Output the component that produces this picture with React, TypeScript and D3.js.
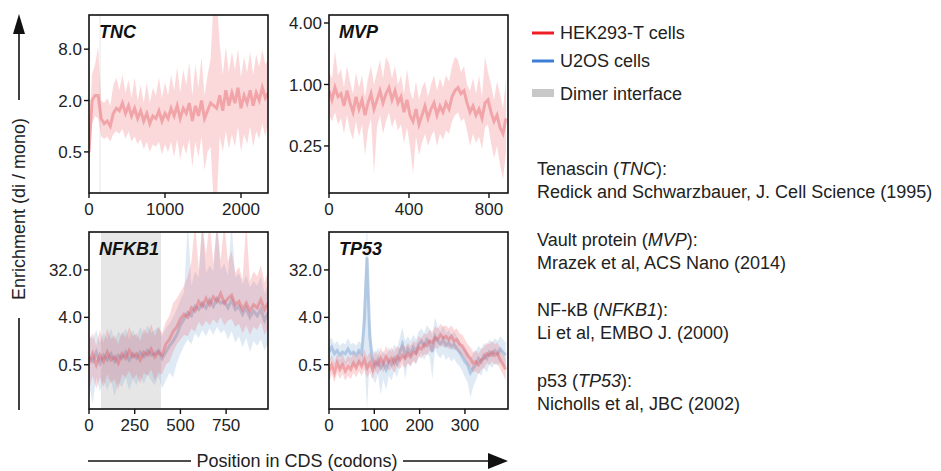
import * as d3 from 'd3'

// enrichment values are stored as log2(di / mono)
const tncCodons = d3.range(0, 2400, 40)
const tncHekMid = [
  -1.0, 1.0, 1.2, 1.2, 0.3, 0.1, 0.2, 0.0, 0.5, 0.7,
  0.6, 0.9, 0.5, 0.8, 0.4, 0.7, 0.3, 0.6, 0.2, 0.5,
  0.1, 0.4, 0.3, 0.6, 0.2, 0.5, 0.3, 0.7, 0.4, 0.8,
  0.3, 0.7, 0.5, 0.9, 0.2, 0.8, 0.4, 1.0, 0.3, 0.6,
  0.9, 0.8, 0.7, 1.2, 0.6, 1.4, 0.8, 1.3, 0.9, 1.5,
  0.7, 1.2, 0.9, 1.4, 0.8, 1.3, 1.0, 1.5, 1.1, 1.3,
]
const tncHekHi = [
  -0.3, 2.0, 2.4, 3.1, 1.0, 0.9, 1.1, 0.8, 1.6, 1.9,
  1.4, 2.0, 1.3, 1.8, 1.1, 1.9, 1.0, 1.6, 0.9, 1.7,
  0.9, 1.5, 1.2, 1.9, 1.1, 1.7, 1.2, 2.0, 1.4, 2.3,
  1.3, 2.2, 1.6, 2.5, 1.2, 2.4, 1.5, 2.7, 1.2, 2.0,
  2.6, 5.0, 5.0, 3.2, 2.0, 3.1, 2.1, 2.9, 2.2, 3.0,
  1.9, 2.7, 2.1, 2.9, 2.0, 2.8, 2.3, 3.0, 2.4, 2.6,
]
const tncHekLo = [
  -1.9, 0.1, 0.4, 0.3, -0.4, -0.5, -0.4, -0.6, -0.3, -0.2,
  -0.3, -0.1, -0.5, -0.2, -0.6, -0.4, -0.7, -0.5, -0.9, -0.6,
  -1.0, -0.7, -0.8, -0.6, -1.1, -0.7, -1.0, -0.6, -1.2, -0.5,
  -1.3, -0.7, -1.1, -0.5, -1.6, -0.6, -1.2, -0.4, -1.7, -1.0,
  -0.8, -3.0, -3.0, -0.4, -1.0, -0.2, -0.9, -0.3, -0.8, 0.0,
  -1.0, -0.3, -0.7, 0.0, -0.8, -0.2, -0.5, 0.1, -0.4, 0.2,
]

const mvpCodons = d3.range(0, 900, 15)
const mvpHekMid = [
  -0.2, -0.5, -0.1, -0.4, -0.3, -0.7, -0.2, -0.6, -0.9, -0.4,
  -0.8, -0.5, -1.0, -0.6, -0.3, -0.8, -0.5, -0.2, -0.6, -0.3,
  -0.1, -0.5, -0.2, -0.6, -0.4, -0.9, -0.5, -1.0, -1.2, -0.8,
  -1.3, -1.0, -0.7, -1.1, -0.8, -0.6, -1.0, -0.7, -0.9, -0.6,
  -0.8, -0.4, -0.2, -0.1, -0.3, -0.2, -0.6, -0.9, -0.7, -1.0,
  -0.8, -1.1, -0.6, -0.5, -0.9, -1.2, -1.0, -1.4, -1.6, -1.1,
]
const mvpHekHi = [
  0.4, 0.2, 1.1, 0.3, 0.5, -0.1, 0.6, 0.1, -0.3, 0.4,
  -0.1, 0.3, -0.4, 0.2, 0.6, 0.0, 0.4, 0.8, 0.2, 0.9,
  0.7, 0.2, 0.6, 0.0, 0.3, -0.3, 0.5, -0.2, -0.5, 0.1,
  -0.5, -0.1, 0.1, -0.4, 0.0, 0.3, -0.2, 0.2, -0.1, 0.3,
  0.1, 0.6, 0.9, 0.8, 0.4, 0.6, 0.0, -0.2, 0.2, -0.3,
  0.3, -0.4, 0.9, 0.4, 0.0, -0.5, 0.1, -0.3, -0.8, 0.2,
]
const mvpHekLo = [
  -1.0, -1.2, -0.9, -1.3, -1.1, -1.6, -1.0, -1.5, -1.8, -1.2,
  -1.7, -1.3, -2.3, -1.5, -1.1, -2.9, -1.4, -1.0, -1.6, -1.2,
  -0.9, -1.4, -1.1, -1.5, -1.3, -1.9, -1.4, -2.0, -2.9, -1.7,
  -2.3, -1.9, -1.6, -2.0, -1.7, -1.5, -2.0, -1.6, -1.8, -1.5,
  -1.6, -1.2, -1.0, -0.9, -1.2, -1.1, -1.5, -2.0, -1.6, -1.9,
  -1.7, -2.1, -1.4, -1.3, -1.9, -2.4, -2.0, -2.6, -3.1, -2.2,
]

const nfkbCodons = d3.range(0, 1000, 20)
const nfkbHekMid = [
  -0.9, -0.3, -1.0, -0.4, -0.8, -0.2, -0.7, -0.5, -0.9, -0.3, -0.6, -0.1, -0.5, -0.3, -0.7, -0.2, -0.4, 0.0, -0.5, -0.2, -0.4,
  0.3, 0.6, 1.1, 1.4, 1.9,
  2.2, 2.0, 2.6, 2.4, 3.0, 2.7, 3.2,
  2.8, 3.3, 3.0, 3.5, 2.9, 3.2, 3.4, 2.8,
  3.0, 2.5, 2.9, 2.4, 2.8, 2.6, 3.1, 2.5, 2.9,
]
const nfkbHekHi = [
  0.5, 1.0, 0.2, 1.2, 0.4, 1.3, 0.6, 0.9, 0.3, 1.1, 0.7, 1.4, 0.8, 1.0, 0.5, 1.3, 0.9, 1.6, 0.8, 1.4, 1.0,
  1.7, 2.1, 2.9, 3.2, 3.6,
  4.0, 4.6, 5.5, 8.0, 5.0, 8.0, 6.0,
  8.0, 5.4, 8.0, 5.6, 8.0, 5.5, 6.2, 4.8,
  5.2, 4.4, 8.0, 4.3, 4.9, 4.6, 5.3, 4.2, 5.0,
]
const nfkbHekLo = [
  -2.6, -1.7, -2.5, -1.8, -2.4, -1.6, -2.2, -1.9, -2.6, -1.6, -1.8, -1.4, -1.9, -1.6, -2.2, -1.5, -1.7, -1.3, -2.0, -1.5, -1.6,
  -1.0, -0.8, -0.2, 0.3, 0.6,
  0.9, 0.8, 1.3, 1.1, 1.7, 1.4, 1.8,
  1.5, 1.9, 1.6, 2.0, 1.5, 1.8, 1.9, 1.4,
  1.6, 1.0, 1.5, 0.9, 1.4, 1.2, 1.7, 0.9, 1.3,
]
const nfkbU2osMid = [
  -0.5, -0.8, -0.2, -0.9, -0.4, -0.7, -0.3, -0.8, -0.4, -0.6, -0.2, -0.7, -0.3, -0.6, -0.2, -0.5, -0.1, -0.4, -0.3, -0.1, -0.6,
  -0.2, 0.2, 0.5, 0.9, 1.5,
  1.9, 2.3, 2.1, 2.7, 2.5, 2.9, 2.6,
  3.1, 2.7, 3.2, 2.9, 3.0, 2.6, 3.1, 2.5,
  2.7, 2.2, 2.6, 2.0, 2.4, 2.1, 2.5, 1.8, 2.3,
]
const nfkbU2osHi = [
  0.9, 0.6, 1.2, 0.4, 1.0, 0.6, 1.3, 0.5, 1.1, 0.8, 1.3, 0.6, 1.2, 0.7, 1.4, 0.9, 1.5, 1.0, 1.2, 1.4, 0.8,
  1.3, 1.6, 2.0, 2.5, 3.1,
  3.6, 8.0, 4.0, 4.9, 4.5, 8.0, 4.8,
  5.3, 4.9, 8.0, 5.0, 5.4, 4.6, 8.0, 4.5,
  4.8, 4.1, 4.7, 3.9, 4.3, 4.0, 4.6, 3.5, 4.2,
]
const nfkbU2osLo = [
  -2.2, -3.5, -1.8, -2.7, -2.0, -2.6, -1.9, -3.0, -2.1, -2.4, -1.8, -2.6, -1.9, -2.3, -1.7, -2.2, -1.6, -2.0, -2.3, -1.7, -2.5,
  -2.0, -1.5, -1.8, -0.9, -0.3,
  0.2, 0.6, 0.3, 1.0, 0.7, 1.2, 0.8,
  1.3, 0.9, 1.4, 1.0, 1.2, 0.6, 1.1, 0.4,
  0.8, 0.1, 0.7, -0.2, 0.5, 0.2, 0.6, -0.1, 0.4,
]

const tp53Codons = d3.range(0, 396, 6)
const tp53HekMid = [
  -1.4, -1.0, -1.5, -0.9, -1.3, -1.0, -1.4, -1.1, -1.3, -0.9,
  -1.2, -0.8, -1.1, -0.7, -1.2, -0.9, -1.3, -0.8, -1.0, -0.6,
  -0.9, -0.5, -0.8, -0.6, -0.9, -0.5, -0.7, -0.4, -0.6, -0.3,
  -0.5, -0.2, -0.3, 0.1, 0.0, 0.3, 0.2, 0.5, 0.4, 0.7,
  0.6, 0.9, 0.7, 0.8, 0.6, 0.8, 0.5, 0.6, 0.3, 0.2,
  -0.1, -0.4, -0.6, -0.9, -0.8, -1.0, -0.7, -0.6, -0.3, -0.4,
  -0.2, -0.4, -0.3, -0.7, -1.0, -1.3,
]
const tp53HekHi = [
  -0.8, -0.4, -0.9, -0.3, -0.7, -0.3, -0.8, -0.4, -0.6, -0.2,
  -0.6, -0.1, -0.5, 0.0, -0.5, -0.2, -0.6, -0.1, -0.4, 0.1,
  -0.3, 0.2, -0.2, 0.1, -0.2, 0.2, 0.0, 0.3, 0.1, 0.4,
  0.2, 0.5, 0.4, 0.8, 0.7, 1.0, 0.9, 1.2, 1.1, 1.4,
  1.3, 1.6, 1.4, 1.5, 1.3, 1.5, 1.2, 1.3, 1.0, 0.9,
  0.6, 0.3, 0.1, -0.2, -0.1, -0.3, 0.0, 0.1, 0.4, 0.3,
  0.5, 0.3, 0.4, 0.0, -0.3, -0.6,
]
const tp53HekLo = [
  -2.1, -1.6, -2.1, -1.5, -1.9, -1.6, -2.0, -1.7, -1.9, -1.5,
  -1.8, -1.4, -1.7, -1.3, -1.8, -1.5, -1.9, -1.4, -1.6, -1.2,
  -1.5, -1.1, -1.4, -1.2, -1.5, -1.1, -1.3, -1.0, -1.2, -0.9,
  -1.1, -0.8, -0.9, -0.5, -0.6, -0.3, -0.4, -0.1, -0.2, 0.1,
  0.0, 0.3, 0.1, 0.2, 0.0, 0.2, -0.1, 0.0, -0.3, -0.4,
  -0.7, -1.0, -1.2, -1.5, -1.4, -1.6, -1.3, -1.2, -0.9, -1.0,
  -0.8, -1.0, -0.9, -1.3, -1.6, -2.0,
]
const tp53U2osMid = [
  -0.2, 0.1, -0.3, -0.1, -0.4, -0.2, -0.3, 0.0, -0.3, -0.2,
  -0.4, -0.1, -0.3, 1.8, 5.8, 0.8, -0.8, -1.1, -0.7, -1.2,
  -0.9, -1.3, -0.8, -1.0, -0.6, -0.9, -0.2, 0.3, -0.4, 0.0,
  -0.3, 0.1, -0.2, 0.3, 0.5, 0.2, 0.6, 0.4, -0.2, 0.8,
  0.5, 0.3, 0.6, 0.2, 0.4, 0.1, 0.3, 0.0, -0.2, -0.5,
  -0.8, -1.0, -1.5, -1.2, -1.0, -0.6, -0.8, -0.4, -0.6, -0.2,
  -0.4, -0.1, -0.3, 0.0, -0.2, -0.4,
]
const tp53U2osHi = [
  0.6, 0.7, 0.3, 0.5, 0.2, 0.4, 0.3, 0.7, 0.3, 0.4,
  0.2, 0.5, 0.3, 4.0, 8.0, 2.0, 0.0, -0.3, 0.1, -0.4,
  -0.1, -0.5, 0.1, -0.2, 0.3, 0.0, 0.7, 1.4, 0.5, 0.8,
  0.5, 0.9, 0.6, 1.1, 1.3, 1.0, 1.5, 1.3, 0.8, 2.0,
  1.4, 1.1, 1.5, 1.0, 1.2, 0.9, 1.1, 0.8, 0.5, 0.2,
  0.0, -0.2, -0.6, -0.3, -0.1, 0.2, 0.0, 0.4, 0.2, 0.6,
  0.4, 0.7, 0.5, 0.8, 0.6, 0.4,
]
const tp53U2osLo = [
  -0.9, -0.6, -1.1, -0.8, -1.3, -1.0, -1.1, -0.8, -1.2, -1.0,
  -1.2, -0.9, -1.1, -0.8, -3.8, -0.6, -1.8, -2.2, -1.6, -2.9,
  -1.9, -2.6, -1.7, -2.0, -1.4, -1.8, -1.0, -0.6, -1.9, -0.9,
  -1.1, -0.7, -1.0, -0.5, -0.3, -0.7, -0.3, -0.5, -1.9, 0.0,
  -0.4, -0.6, -0.3, -0.7, -0.5, -0.8, -0.6, -0.9, -1.1, -1.4,
  -1.8, -2.1, -3.1, -2.4, -2.0, -1.5, -1.7, -1.2, -1.5, -1.0,
  -1.2, -0.9, -1.1, -0.8, -1.0, -1.2,
]

const tncDimer = [140, 152]
const nfkbDimer = [66, 394]

const tncXTicks = [0, 1000, 2000]
const mvpXTicks = [0, 400, 800]
const nfkbXTicks = [0, 250, 500, 750]
const tp53XTicks = [0, 100, 200, 300]
const tncYTicks = [0.5, 2.0, 8.0]
const mvpYTicks = [0.25, 1.0, 4.0]
const lowerYTicks = [0.5, 4.0, 32.0]

const legendItems = ['HEK293-T cells', 'U2OS cells', 'Dimer interface']

const FONT = 'Liberation Sans, Arial, Helvetica, sans-serif'
const RED = { band: '#ee6268', core: '#e6585e', key: '#ee1c24' }
const BLUE = { band: '#78a6d4', core: '#6a96c8', key: '#3d7ed6' }

type Series = { codons: number[]; mid: number[]; lo: number[]; hi: number[]; color: typeof RED }

function Panel(props: {
  id: string
  left: number
  top: number
  w: number
  h: number
  xMax: number
  yDomain: [number, number]
  xTicks: number[]
  yTicks: number[]
  digits: number
  title: string
  series: Series[]
  dimer?: number[]
}) {
  const { id, left, top, w, h, xMax, yDomain, xTicks, yTicks, digits, title, series, dimer } = props
  const x = d3.scaleLinear().domain([0, xMax]).range([left, left + w])
  const y = d3.scaleLinear().domain(yDomain).range([top + h, top])
  return (
    <g>
      <clipPath id={id}>
        <rect x={left} y={top} width={w} height={h} />
      </clipPath>
      <g clipPath={`url(#${id})`}>
        {dimer && (
          <rect x={x(dimer[0])} y={top} width={x(dimer[1]) - x(dimer[0])} height={h} fill="#e6e6e6" />
        )}
        {series.map((s, k) => {
          const idx = d3.range(s.codons.length)
          const area = d3
            .area<number>()
            .x((i) => x(s.codons[i]))
            .y0((i) => y(s.lo[i]))
            .y1((i) => y(s.hi[i]))
          const line = d3
            .line<number>()
            .x((i) => x(s.codons[i]))
            .y((i) => y(s.mid[i]))
          return (
            <g key={k}>
              <path d={area(idx) ?? ''} fill={s.color.band} fillOpacity={0.24} />
              <path d={line(idx) ?? ''} fill="none" stroke={s.color.core} strokeOpacity={0.4} strokeWidth={3} />
            </g>
          )
        })}
      </g>
      <rect x={left} y={top} width={w} height={h} fill="none" stroke="#111" strokeWidth={1.6} />
      {xTicks.map((t) => (
        <g key={'x' + t}>
          <line x1={x(t)} x2={x(t)} y1={top + h} y2={top + h + 5} stroke="#111" strokeWidth={1.4} />
          <text x={x(t)} y={top + h + 22} textAnchor="middle" fontSize={17} fill="#222">
            {t}
          </text>
        </g>
      ))}
      {yTicks.map((t) => (
        <g key={'y' + t}>
          <line x1={left - 5} x2={left} y1={y(Math.log2(t))} y2={y(Math.log2(t))} stroke="#111" strokeWidth={1.4} />
          <text x={left - 7} y={y(Math.log2(t))} dy="0.36em" textAnchor="end" fontSize={17} fill="#222">
            {t.toFixed(digits)}
          </text>
        </g>
      ))}
      <text x={left + 10} y={top + 23} fontSize={18} fontWeight="bold" fontStyle="italic" fill="#111">
        {title}
      </text>
    </g>
  )
}

export default function App() {
  const hek = (codons: number[], mid: number[], lo: number[], hi: number[]): Series => ({ codons, mid, lo, hi, color: RED })
  const u2os = (codons: number[], mid: number[], lo: number[], hi: number[]): Series => ({ codons, mid, lo, hi, color: BLUE })
  const refs = [
    { pre: 'Tenascin (', gene: 'TNC', post: '):', cite: 'Redick and Schwarzbauer, J. Cell Science (1995)' },
    { pre: 'Vault protein (', gene: 'MVP', post: '):', cite: 'Mrazek et al, ACS Nano (2014)' },
    { pre: 'NF-kB (', gene: 'NFKB1', post: '):', cite: 'Li et al, EMBO J. (2000)' },
    { pre: 'p53 (', gene: 'TP53', post: '):', cite: 'Nicholls et al, JBC (2002)' },
  ]
  return (
    <svg width={941} height={471} style={{ position: 'absolute', left: 0, top: 0, background: '#fff' }} fontFamily={FONT}>
      <Panel id="c-tnc" left={89} top={15} w={179} h={178} xMax={2355} yDomain={[-2.6, 4.33]}
        xTicks={tncXTicks} yTicks={tncYTicks} digits={1} title="TNC" dimer={tncDimer}
        series={[hek(tncCodons, tncHekMid, tncHekLo, tncHekHi)]} />
      <Panel id="c-mvp" left={329} top={15} w={179} h={178} xMax={895} yDomain={[-3.53, 2.26]}
        xTicks={mvpXTicks} yTicks={mvpYTicks} digits={2} title="MVP"
        series={[hek(mvpCodons, mvpHekMid, mvpHekLo, mvpHekHi)]} />
      <Panel id="c-nfkb" left={89} top={232} w={179} h={177} xMax={979} yDomain={[-3.8, 7.4]}
        xTicks={nfkbXTicks} yTicks={lowerYTicks} digits={1} title="NFKB1" dimer={nfkbDimer}
        series={[u2os(nfkbCodons, nfkbU2osMid, nfkbU2osLo, nfkbU2osHi), hek(nfkbCodons, nfkbHekMid, nfkbHekLo, nfkbHekHi)]} />
      <Panel id="c-tp53" left={329} top={232} w={179} h={177} xMax={395} yDomain={[-3.8, 7.4]}
        xTicks={tp53XTicks} yTicks={lowerYTicks} digits={1} title="TP53"
        series={[u2os(tp53Codons, tp53U2osMid, tp53U2osLo, tp53U2osHi), hek(tp53Codons, tp53HekMid, tp53HekLo, tp53HekHi)]} />

      {/* y axis arrow */}
      <line x1={19} x2={19} y1={410} y2={318} stroke="#111" strokeWidth={1.6} />
      <line x1={19} x2={19} y1={100} y2={30} stroke="#111" strokeWidth={1.6} />
      <polygon points="19,14 13,34 25,34" fill="#111" />
      <text transform="translate(19,209) rotate(-90)" textAnchor="middle" dy="0.36em" fontSize={18} fill="#222">
        Enrichment (di / mono)
      </text>

      {/* x axis arrow */}
      <line x1={88} x2={191} y1={461} y2={461} stroke="#111" strokeWidth={1.6} />
      <line x1={403} x2={492} y1={461} y2={461} stroke="#111" strokeWidth={1.6} />
      <polygon points="508,461 488,453 488,469" fill="#111" />
      <text x={297} y={461} dy="0.34em" textAnchor="middle" fontSize={18} fill="#222">
        Position in CDS (codons)
      </text>

      {/* legend */}
      <line x1={532} x2={554} y1={33} y2={33} stroke={RED.key} strokeWidth={3} />
      <line x1={532} x2={554} y1={61} y2={61} stroke={BLUE.key} strokeWidth={3} />
      <rect x={532} y={89} width={22} height={8} fill="#c8c8c8" />
      {legendItems.map((t, i) => (
        <text key={t} x={560} y={[39, 67, 100][i]} fontSize={18} fill="#222">
          {t}
        </text>
      ))}

      {refs.map((r, i) => (
        <g key={r.gene} fontSize={18} fill="#222">
          <text x={537} y={175 + i * 70.5}>
            {r.pre}
            <tspan fontStyle="italic">{r.gene}</tspan>
            {r.post}
          </text>
          <text x={537} y={198 + i * 70.5}>{r.cite}</text>
        </g>
      ))}
    </svg>
  )
}
